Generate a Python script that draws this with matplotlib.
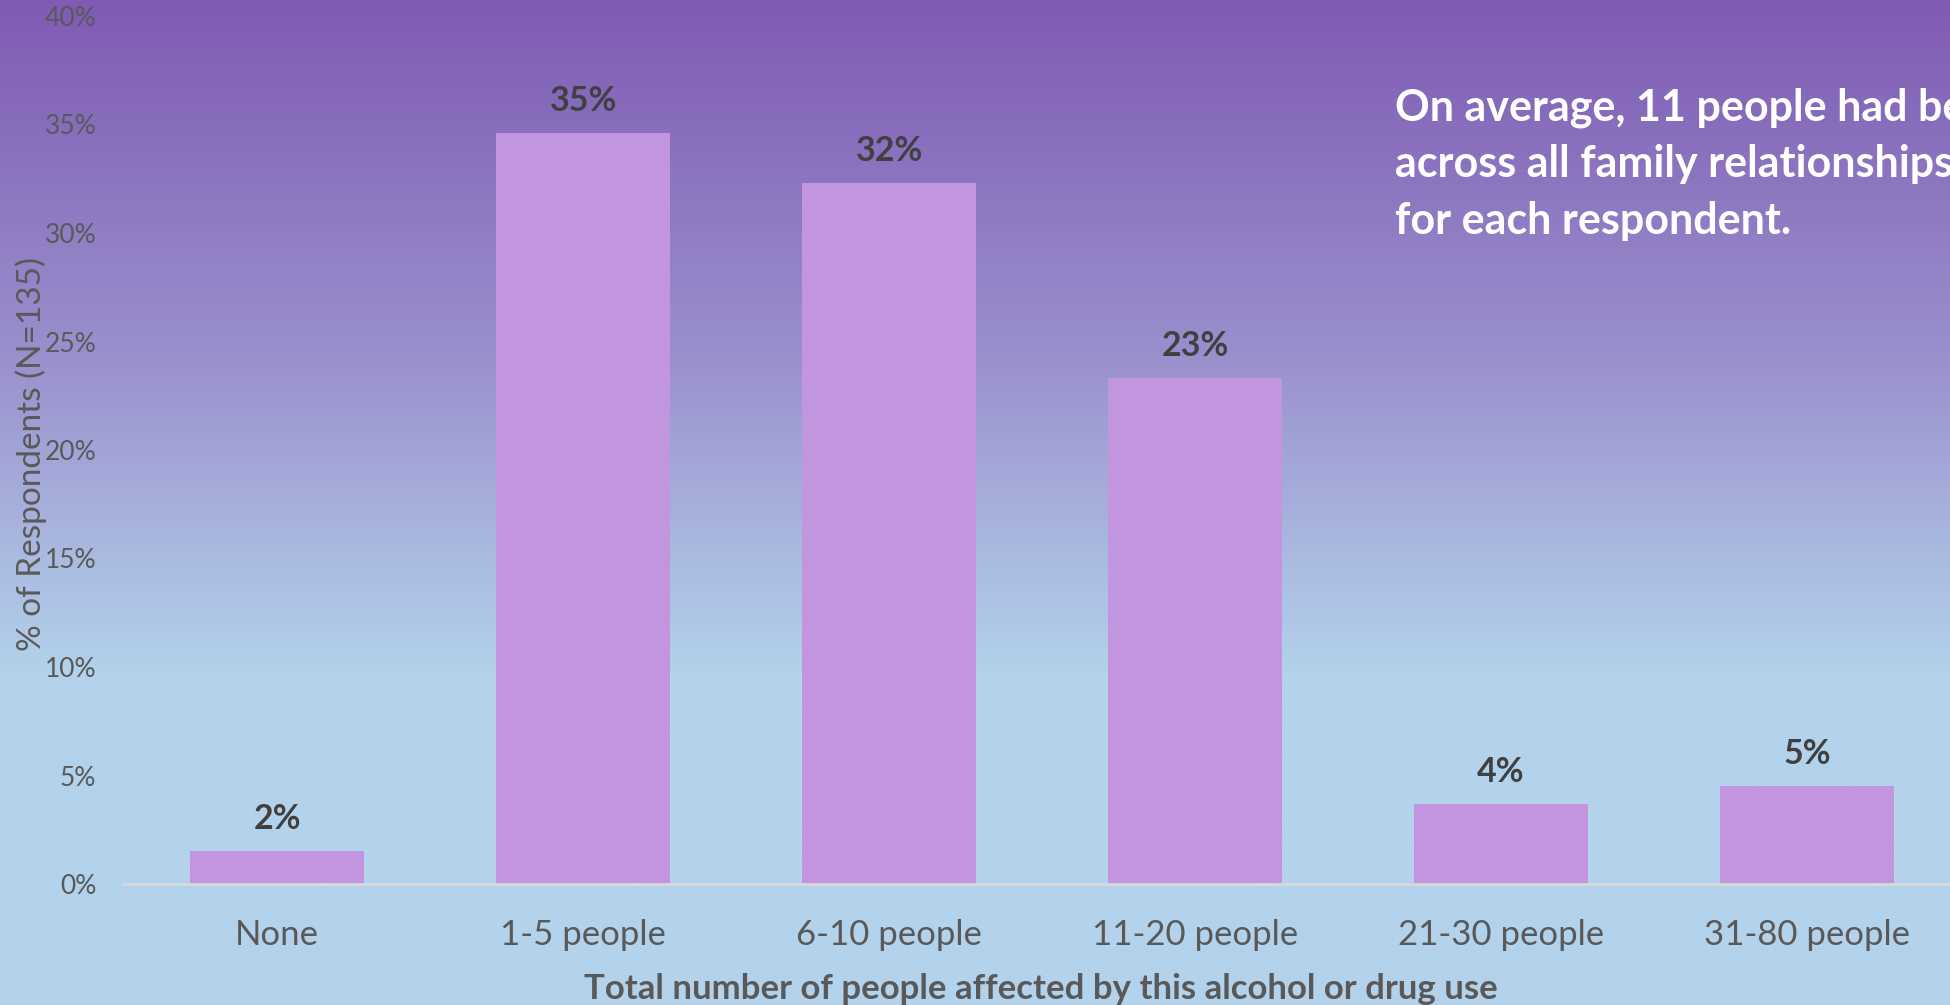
import numpy as np
import matplotlib
matplotlib.use("Agg")
import matplotlib.pyplot as plt
from matplotlib.colors import LinearSegmentedColormap

# ---- data ----
categories = ["None", "1-5 people", "6-10 people", "11-20 people", "21-30 people", "31-80 people"]
values = [1.5, 34.6, 32.3, 23.3, 3.7, 4.5]
labels = ["2%", "35%", "32%", "23%", "4%", "5%"]
yticks = [0, 5, 10, 15, 20, 25, 30, 35, 40]
ytick_labels = ["0%", "5%", "10%", "15%", "20%", "25%", "30%", "35%", "40%"]
note_lines = ["On average, 11 people had been",
              "across all family relationships",
              "for each respondent."]

W, H = 1950, 1005
fig = plt.figure(figsize=(W / 100, H / 100), dpi=100)

# background gradient
bg = fig.add_axes([0, 0, 1, 1], zorder=0)
cmap = LinearSegmentedColormap.from_list(
    "bg", [(0.0, "#7f5bb4"), (0.35, "#9a8fcc"), (0.67, "#b3d2eb"), (1.0, "#b3d2eb")])
grad = np.linspace(0, 1, 500).reshape(-1, 1)
bg.imshow(grad, aspect="auto", cmap=cmap, extent=[0, 1, 0, 1], origin="upper")
bg.set_axis_off()

FONT = "Lato"
TICK_C = "#595959"

ax = fig.add_axes([124 / W, 1 - 884 / H, 1 - 124 / W, (884 - 16) / H], zorder=1)
ax.set_facecolor("none")
x = np.arange(len(categories))
ax.bar(x, values, width=0.57, color="#c296de", zorder=2)
ax.set_xlim(-0.5, 5.467)
ax.set_ylim(0, 40)

for xi, v, lab in zip(x, values, labels):
    ax.annotate(lab, (xi, v), xytext=(0, 22), textcoords="offset pixels",
                ha="center", va="baseline", fontsize=24.5, fontweight="bold",
                color="#404040", family=FONT)

ax.set_yticks(yticks)
ax.set_yticklabels(ytick_labels, fontsize=19, color=TICK_C, family=FONT)
ax.set_xticks(x)
ax.set_xticklabels(categories, fontsize=25, color=TICK_C, family=FONT)
ax.tick_params(axis="both", length=0)
ax.tick_params(axis="x", pad=25)
ax.tick_params(axis="y", pad=20)

for s in ["top", "right", "left"]:
    ax.spines[s].set_visible(False)
ax.spines["bottom"].set_color("#d9d9d9")
ax.spines["bottom"].set_linewidth(2)

fig.text(1041 / W, 1 - 989 / H,
         "Total number of people affected by this alcohol or drug use",
         ha="center", va="center", fontsize=25, fontweight="bold",
         color=TICK_C, family=FONT)
fig.text(31 / W, 1 - 454 / H, "% of Respondents (N=135)", rotation=90,
         ha="center", va="center", fontsize=24, color=TICK_C, family=FONT)

for line, yb in zip(note_lines, [120, 177, 234]):
    fig.text(1395 / W, 1 - yb / H, line, ha="left", va="baseline",
             fontsize=31, fontweight="bold", color="white", family=FONT)

fig.savefig("out.png", dpi=100)
